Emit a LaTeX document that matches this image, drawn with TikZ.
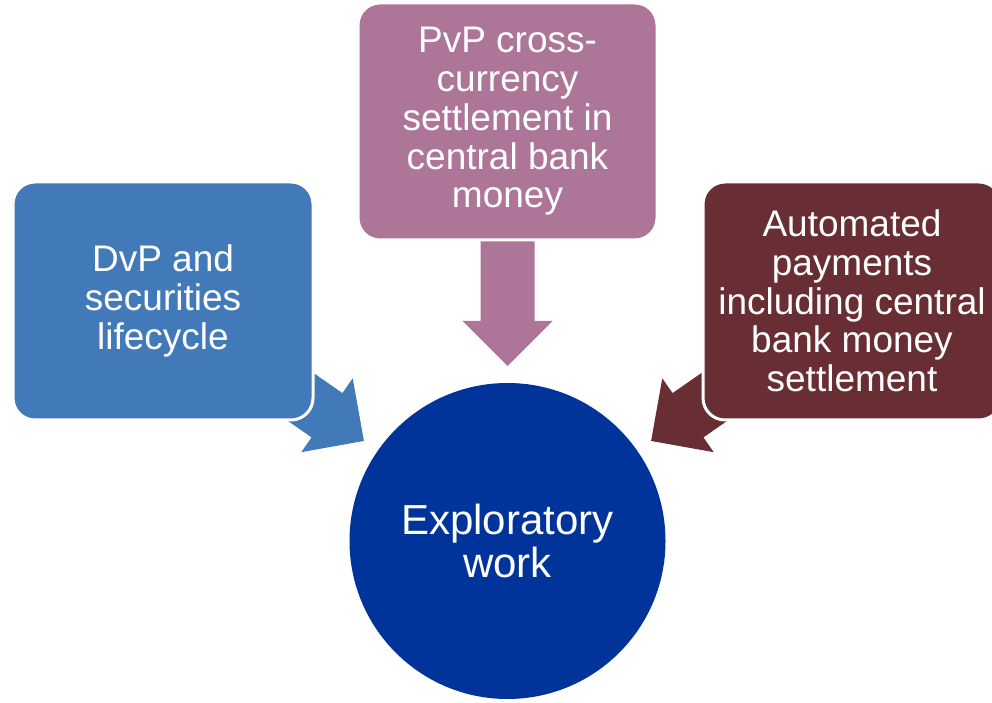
\documentclass[tikz,border=0pt]{standalone}
\usepackage{fontspec}
\setmainfont{Liberation Sans}
\usetikzlibrary{calc,backgrounds}
\definecolor{dvpblue}{HTML}{4279B8}
\definecolor{pvpmauve}{HTML}{AD7597}
\definecolor{autored}{HTML}{682E33}
\definecolor{workblue}{HTML}{00349A}
\newcommand{\blockarrow}[3]{%
  \path ($(#2)!220pt!(#1)$) coordinate (hb) ($(#2)!305pt!(#1)$) coordinate (tb);
  \fill[#3] ($(#2)!175pt!(#1)$) -- ($(hb)!45pt!-90:(#1)$) -- ($(hb)!27pt!-90:(#1)$)
    -- ($(tb)!27pt!-90:(#1)$) -- ($(tb)!27pt!90:(#1)$) -- ($(hb)!27pt!90:(#1)$)
    -- ($(hb)!45pt!90:(#1)$) -- cycle;
}
\begin{document}
\begin{tikzpicture}[x=1pt,y=1pt,
    stagebox/.style={draw=white,line width=3pt,rounded corners=22pt,text=white,
      align=center,inner sep=0pt,font=\fontsize{37}{38.7}\selectfont},
    hub/.style={circle,fill=workblue,text=white,align=center,minimum size=316pt,
      inner sep=0pt,font=\fontsize{42}{43}\selectfont}]
  \useasboundingbox (0,0) rectangle (992,703);

  \node[hub] (work) at (507.5,162) {Exploratory\\work};

  \node[stagebox,fill=dvpblue,minimum width=300pt,minimum height=238pt] (dvp) at (163,402)
    {DvP and\\securities\\lifecycle};
  \node[stagebox,fill=pvpmauve,minimum width=299pt,minimum height=237pt] (pvp) at (507.5,581.5)
    {PvP cross-\\currency\\settlement in\\central bank\\money};
  \node[stagebox,fill=autored,minimum width=298pt,minimum height=238pt] (auto) at (852,402)
    {Automated\\payments\\including central\\bank money\\settlement};

  \begin{pgfonlayer}{background}
    \blockarrow{dvp.center}{work.center}{dvpblue}
    \blockarrow{pvp.center}{work.center}{pvpmauve}
    \blockarrow{auto.center}{work.center}{autored}
  \end{pgfonlayer}
\end{tikzpicture}
\end{document}
